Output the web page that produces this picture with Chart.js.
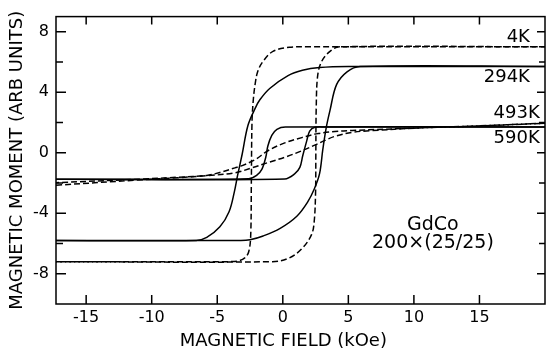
<!DOCTYPE html>
<html>
<head>
<meta charset="utf-8">
<script src="https://cdn.jsdelivr.net/npm/chart.js@4.4.1/dist/chart.umd.min.js"></script>
<style>
  html, body { margin: 0; padding: 0; background: #fff; }
</style>
</head>
<body>
<canvas id="myChart" width="546" height="350"></canvas>
<script>
// Hysteresis loops, field in kOe, moment in arb. units
// "down" = field swept from +H to -H, "up" = swept back
const down4K = [[20, 7.0], [2, 7.0], [0.5, 6.97], [-0.75, 6.7], [-1.5, 6.05], [-1.9, 5.4], [-2.1, 4.6], [-2.25, 3.5], [-2.35, 2.0], [-2.4, -2.0], [-2.45, -5.5], [-2.6, -6.55], [-2.9, -6.95], [-3.4, -7.15], [-4.2, -7.2], [-17.3, -7.2]];
const up4K = [[-17.3, -7.2], [-0.8, -7.2], [0.5, -6.95], [1.5, -6.3], [2.2, -5.4], [2.4, -4.5], [2.5, -2.6], [2.52, 0], [2.55, 3.0], [2.66, 5.1], [2.97, 6.05], [3.6, 6.7], [4.3, 7.0], [20, 7.0]];

const down294K = [[20, 5.7], [5, 5.7], [2.8, 5.63], [1.5, 5.45], [0.4, 5.1], [-1, 4.25], [-1.75, 3.5], [-2.1, 2.95], [-2.66, 1.8], [-3.1, -0.1], [-3.45, -1.5], [-3.7, -2.6], [-4.1, -3.9], [-4.8, -4.9], [-5.8, -5.6], [-6.6, -5.8], [-17.3, -5.8]];
const up294K = [[-17.3, -5.8], [-3.2, -5.8], [-2.5, -5.75], [-1.5, -5.5], [-0.2, -5.0], [1.07, -4.2], [1.9, -3.25], [2.4, -2.4], [2.8, -1.4], [3.05, 0.2], [3.3, 1.6], [3.6, 2.8], [4.1, 4.5], [4.9, 5.35], [5.9, 5.7], [20, 5.7]];

const down493K = [[20, 1.7], [0.2, 1.7], [-0.45, 1.55], [-0.84, 1.15], [-1.14, 0.45], [-1.3, -0.3], [-1.6, -1.1], [-2.0, -1.5], [-2.6, -1.72], [-17.3, -1.75]];
const up493K = [[-17.3, -1.75], [0.15, -1.73], [0.9, -1.4], [1.3, -0.97], [1.52, -0.2], [1.83, 0.8], [2.05, 1.43], [2.45, 1.68], [3.2, 1.7], [20, 1.7]];

const down590K = [[20, 1.95], [14.2, 1.75], [10.4, 1.64], [5.3, 1.47], [3.96, 1.4], [2.7, 1.27], [1.45, 1.0], [0.15, 0.65], [-1.14, 0.13], [-2.1, -0.45], [-3.1, -0.85], [-3.65, -1.0], [-4.8, -1.3], [-5.8, -1.5], [-8, -1.62], [-11, -1.75], [-17.3, -1.98]];
const up590K = [[-17.3, -2.15], [-11, -1.8], [-8, -1.65], [-5.8, -1.52], [-3.65, -1.33], [-2.36, -1.0], [-1.14, -0.65], [0.15, -0.3], [1.45, 0.13], [2.43, 0.5], [3.3, 0.85], [3.96, 1.08], [5.3, 1.35], [6.6, 1.45], [10.4, 1.64], [14.2, 1.75], [20, 1.95]];

const xTicks = [-15, -10, -5, 0, 5, 10, 15];
const yTicks = [-8, -4, 0, 4, 8];
const yMinorTicks = [-6, -2, 2, 6];

const tempLabels = ['4K', '294K', '493K', '590K'];
const sampleLines = ['GdCo', '200×(25/25)'];

const FONT = 'DejaVu Sans';

function branch(points, dashed) {
  return {
    data: points.map(p => ({ x: p[0], y: p[1] })),
    borderColor: '#000',
    borderWidth: 1.5,
    borderDash: dashed ? [6, 3] : [],
    pointRadius: 0,
    showLine: true,
    tension: 0.35,
    fill: false
  };
}

// box + inward ticks on all four sides
const frameTicks = {
  id: 'frameTicks',
  afterDatasetsDraw(chart) {
    const { ctx, chartArea: a, scales: { x, y } } = chart;
    ctx.save();
    ctx.strokeStyle = '#000';
    ctx.lineWidth = 1.5;
    ctx.strokeRect(a.left, a.top, a.right - a.left, a.bottom - a.top);
    ctx.beginPath();
    xTicks.forEach(v => {
      const px = x.getPixelForValue(v);
      ctx.moveTo(px, a.bottom); ctx.lineTo(px, a.bottom - 9);
      ctx.moveTo(px, a.top); ctx.lineTo(px, a.top + 8);
    });
    yTicks.forEach(v => {
      const py = y.getPixelForValue(v);
      ctx.moveTo(a.left, py); ctx.lineTo(a.left + 10, py);
      ctx.moveTo(a.right, py); ctx.lineTo(a.right - 8, py);
    });
    yMinorTicks.forEach(v => {
      const py = y.getPixelForValue(v);
      ctx.moveTo(a.left, py); ctx.lineTo(a.left + 7, py);
      ctx.moveTo(a.right, py); ctx.lineTo(a.right - 6, py);
    });
    ctx.stroke();
    ctx.restore();
  }
};

// temperature labels and sample name
const annotations = {
  id: 'annotations',
  afterDraw(chart) {
    const { ctx, scales: { x, y } } = chart;
    const spots = [[18.85, 7.65], [18.85, 5.0], [19.6, 2.62], [19.6, 0.96]];
    ctx.save();
    ctx.fillStyle = '#000';
    ctx.font = '18px "' + FONT + '"';
    ctx.textAlign = 'right';
    ctx.textBaseline = 'middle';
    tempLabels.forEach((t, i) => {
      ctx.fillText(t, x.getPixelForValue(spots[i][0]), y.getPixelForValue(spots[i][1]));
    });
    ctx.font = '19px "' + FONT + '"';
    ctx.textAlign = 'center';
    ctx.fillText(sampleLines[0], x.getPixelForValue(11.45), y.getPixelForValue(-4.75));
    ctx.fillText(sampleLines[1], x.getPixelForValue(11.45), y.getPixelForValue(-6.0));
    ctx.restore();
  }
};

const ctx = document.getElementById('myChart').getContext('2d');

new Chart(ctx, {
  type: 'scatter',
  data: {
    datasets: [
      branch(down4K, true), branch(up4K, true),
      branch(down294K, false), branch(up294K, false),
      branch(down493K, false), branch(up493K, false),
      branch(down590K, true), branch(up590K, true)
    ]
  },
  options: {
    responsive: false,
    animation: false,
    layout: { padding: { top: 12, right: 1, left: 0, bottom: 0 } },
    plugins: {
      legend: { display: false },
      tooltip: { enabled: false }
    },
    scales: {
      x: {
        type: 'linear',
        min: -17.3,
        max: 20,
        afterBuildTicks: s => { s.ticks = xTicks.map(v => ({ value: v })); },
        afterFit: s => { s.height = 46; },
        grid: { display: false, drawTicks: false },
        border: { display: false },
        ticks: { color: '#000', padding: 4, font: { family: FONT, size: 16 } },
        title: {
          display: true,
          // trailing spaces pull the title over x = 0 like the original
          text: 'MAGNETIC FIELD (kOe)      ',
          color: '#000',
          font: { family: FONT, size: 18, lineHeight: 1 },
          padding: { top: 0, bottom: 0 }
        }
      },
      y: {
        type: 'linear',
        min: -10,
        max: 9,
        afterBuildTicks: s => { s.ticks = yTicks.map(v => ({ value: v })); },
        afterFit: s => { s.width = 56; },
        grid: { display: false, drawTicks: false },
        border: { display: false },
        ticks: { color: '#000', padding: 7, font: { family: FONT, size: 16 } },
        title: {
          display: true,
          text: 'MAGNETIC MOMENT (ARB UNITS)',
          color: '#000',
          font: { family: FONT, size: 18, lineHeight: 1 },
          padding: { top: 8, bottom: 0 }
        }
      }
    }
  },
  plugins: [frameTicks, annotations]
});
</script>
</body>
</html>
